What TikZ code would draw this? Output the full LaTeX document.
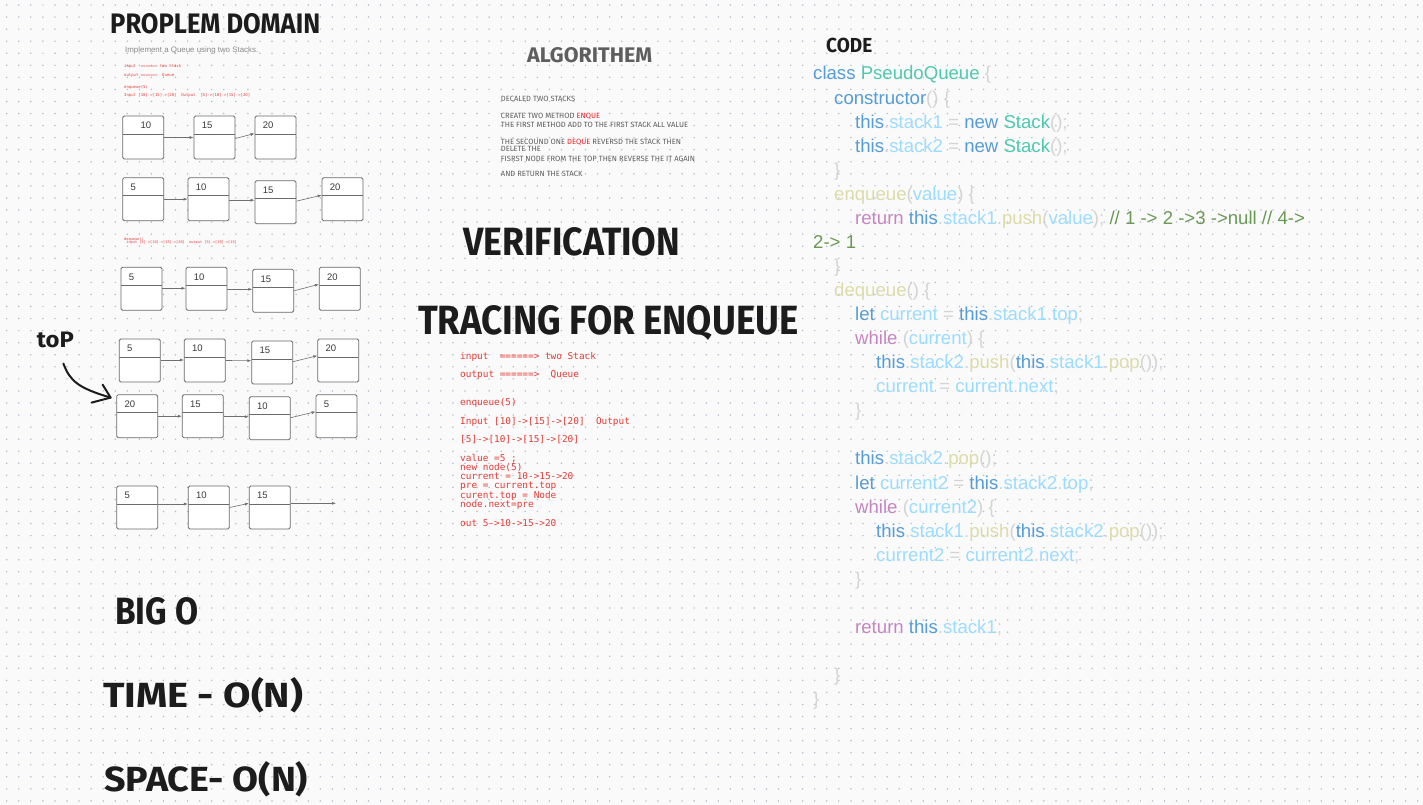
\documentclass[tikz,border=0pt]{standalone}
\usepackage{fontspec}
\usepackage{graphicx}
\usetikzlibrary{arrows.meta}
\setmainfont{Liberation Sans}
\newfontfamily\handfont{Fira Sans}
\newfontfamily\algfont{Fira Sans}
\newfontfamily\tracefont{DejaVu Sans Mono}
\newfontfamily\codefont{Liberation Sans}

\definecolor{paper}{HTML}{FAFAFA}
\definecolor{dotgray}{HTML}{B4BCCB}
\definecolor{boxline}{HTML}{6A6A6A}
\definecolor{numgray}{HTML}{3A3A3A}
\definecolor{linegray}{HTML}{707070}
\definecolor{implgray}{HTML}{8A8A8A}
\definecolor{tracered}{HTML}{E33B36}
\definecolor{alggray}{HTML}{5E5E5E}
\definecolor{algred}{HTML}{EA2228}
\definecolor{inkblack}{HTML}{1C1C1C}
\definecolor{vsKw}{HTML}{569CD6}
\definecolor{vsCls}{HTML}{4EC9B0}
\definecolor{vsPun}{HTML}{D4D4D4}
\definecolor{vsVar}{HTML}{9CDCFE}
\definecolor{vsFun}{HTML}{DCDCAA}
\definecolor{vsCtl}{HTML}{C586C0}
\definecolor{vsCom}{HTML}{6A9955}

\newcommand\handw[3]{\resizebox{#1}{#2}{\handfont\bfseries #3}}
\newcommand\cKw[1]{\textcolor{vsKw}{#1}}
\newcommand\cCls[1]{\textcolor{vsCls}{#1}}
\newcommand\cVar[1]{\textcolor{vsVar}{#1}}
\newcommand\cFun[1]{\textcolor{vsFun}{#1}}
\newcommand\cCtl[1]{\textcolor{vsCtl}{#1}}
\newcommand\cCom[1]{\textcolor{vsCom}{#1}}

\begin{document}
\begin{tikzpicture}[x=1pt, y=-1pt,
  qbox/.style={draw=boxline, fill=white, line width=0.8pt, rounded corners=1.5pt,
    minimum width=41pt, minimum height=43pt, inner sep=0pt,
    path picture={\draw[boxline, line width=0.8pt]
      ([yshift=-18pt]path picture bounding box.north west) --
      ([yshift=-18pt]path picture bounding box.north east);}},
  boxnum/.style={anchor=north west, inner sep=0pt, xshift=8pt, yshift=-6.5pt,
    text=numgray, font=\fontsize{9.5}{10}\selectfont},
  link/.style={draw=linegray, line width=0.6pt, -{Latex[length=4pt,width=3pt]}},
  handhead/.style={anchor=base west, inner sep=0pt, text=inkblack},
  inkline/.style={draw=inkblack, line width=2pt, line cap=round, line join=round},
  mini/.style={anchor=base west, inner sep=0pt, text=tracered, font=\tracefont\fontsize{3.95}{4}\selectfont},
  algline/.style={anchor=base west, inner sep=0pt, text=alggray, font=\algfont\fontsize{7.6}{8}\selectfont},
  traceline/.style={anchor=base west, inner sep=0pt, text=tracered, font=\tracefont\fontsize{9.4}{9.4}\selectfont},
  codeline/.style={anchor=base west, inner sep=0pt, text=vsPun, font=\codefont\fontsize{18.6}{18.6}\selectfont}]

  \useasboundingbox (0,0) rectangle (1423,805);
  \fill[paper] (0,0) rectangle (1423,805);
  % dotted paper
  \foreach \j in {0,...,66}
    \draw[dotgray, line width=1.7pt, line cap=round, dash pattern=on 0pt off 12.06pt]
      (6.7,5+12.06*\j) -- (1423,5+12.06*\j);

  % problem domain
  \node[handhead] (probdom) at (110,33.3) {\handw{210pt}{20pt}{PROPLEM DOMAIN}};
  \node[anchor=base west, inner sep=0pt, text=implgray, font=\fontsize{7.9}{8}\selectfont]
    (implq) at (125,52.5) {Implement a Queue using two Stacks.};
  \node[mini] (pin) at (124,68) {input~~======>~two Stack};
  \node[mini] (pout) at (124,76.7) {output~======>~~Queue};
  \node[mini] (penq) at (124,88.3) {enqueue(5)};
  \node[mini] (pio) at (124,96.7) {Input~[10]->[15]->[20]~~Output~~[5]->[10]->[15]->[20]};

  % stacks
  \node[qbox, label={[boxnum,xshift=10pt]north west:10}] (r1a) at (143.2,137.5) {};
  \node[qbox, label={[boxnum]north west:15}] (r1b) at (214.5,137.5) {};
  \node[qbox, label={[boxnum]north west:20}] (r1c) at (275.5,137.5) {};
  \draw[link] (r1a.east) -- (r1b.west);
  \draw[link] ([yshift=-1pt]r1b.east) -- ([yshift=4pt]r1c.west);

  \node[qbox, label={[boxnum]north west:5}] (r2a) at (143.2,199.2) {};
  \node[qbox, label={[boxnum]north west:10}] (r2b) at (208.5,199.2) {};
  \node[qbox, label={[boxnum]north west:15}] (r2c) at (275.5,202.2) {};
  \node[qbox, label={[boxnum]north west:20}] (r2d) at (342.5,199.2) {};
  \draw[link] (r2a.east) -- (r2b.west);
  \draw[link] ([yshift=-1pt]r2b.east) -- ([yshift=2pt]r2c.west);
  \draw[link] ([yshift=1pt]r2c.east) -- ([yshift=4pt]r2d.west);

  \node[mini, font=\tracefont\fontsize{3.6}{4}\selectfont] (dqn) at (124,240) {dequeue()};
  \node[mini, font=\tracefont\fontsize{3.6}{4}\selectfont] (dqio) at (124,243.6)
    {~input [5]->[10]->[15]->[20]~~output [5]->[10]->[15]};

  \node[qbox, label={[boxnum]north west:5}] (r3a) at (141.5,288.8) {};
  \node[qbox, label={[boxnum]north west:10}] (r3b) at (206.5,288.8) {};
  \node[qbox, label={[boxnum]north west:15}] (r3c) at (273.2,290.8) {};
  \node[qbox, label={[boxnum]north west:20}] (r3d) at (339.8,288.8) {};
  \draw[link] ([yshift=0.5pt]r3a.east) -- ([yshift=0.5pt]r3b.west);
  \draw[link] ([yshift=-0.5pt]r3b.east) -- ([yshift=1.5pt]r3c.west);
  \draw[link] (r3c.east) -- ([yshift=4.5pt]r3d.west);

  \node[qbox, label={[boxnum]north west:5}] (r4a) at (139.8,360.5) {};
  \node[qbox, label={[boxnum]north west:10}] (r4b) at (204.8,360.5) {};
  \node[qbox, label={[boxnum]north west:15}] (r4c) at (272.2,362.5) {};
  \node[qbox, label={[boxnum]north west:20}] (r4d) at (338.2,360.5) {};
  \draw[link] ([yshift=0.5pt]r4a.east) -- ([yshift=0.5pt]r4b.west);
  \draw[link] (r4b.east) -- ([yshift=1.8pt]r4c.west);
  \draw[link] ([yshift=0.8pt]r4c.east) -- ([yshift=4.8pt]r4d.west);

  \node[qbox, label={[boxnum]north west:20}] (r5a) at (137.2,416.2) {};
  \node[qbox, label={[boxnum]north west:15}] (r5b) at (202.8,416.2) {};
  \node[qbox, label={[boxnum]north west:10}] (r5c) at (269.8,418.2) {};
  \node[qbox, label={[boxnum]north west:5}] (r5d) at (336.5,416.2) {};
  \draw[link] (r5a.east) -- (r5b.west);
  \draw[link] ([yshift=-0.5pt]r5b.east) -- ([yshift=1.5pt]r5c.west);
  \draw[link] ([yshift=0.5pt]r5c.east) -- ([yshift=4.5pt]r5d.west);

  % top pointer
  \node[handhead] (toplbl) at (36.7,347) {\handw{37pt}{15.5pt}{toP}};
  \draw[inkline] ([shift={(8,16)}]toplbl.south) .. controls (70,381) and (78,388) .. ([shift={(-5.7,3.3)}]r5a.north west);
  \draw[inkline] ([shift={(-13.7,-9.7)}]r5a.north west) -- ([shift={(-5.7,3.3)}]r5a.north west) -- ([shift={(-24.7,8.3)}]r5a.north west);

  \node[qbox, label={[boxnum]north west:5}] (r6a) at (137.2,507.5) {};
  \node[qbox, label={[boxnum]north west:10}] (r6b) at (208.8,507.5) {};
  \node[qbox, label={[boxnum]north west:15}] (r6c) at (269.8,507.5) {};
  \coordinate (r6end) at (336,503.3);
  \draw[link] ([yshift=3.5pt]r6a.east) -- ([yshift=3.5pt]r6b.west);
  \draw[link] (r6b.east) -- ([yshift=4.2pt]r6c.west);
  \draw[link] ([yshift=4.2pt]r6c.east) -- (r6end);

  % algorithm
  \node[handhead, text=alggray] (algo) at (527,63) {\handw{125pt}{15pt}{ALGORITHEM}};
  \node[algline] (al1) at (500.7,102) {DECALED TWO STACKS};
  \node[algline] (al2) at (500.7,119) {CREATE TWO METHOD \textcolor{algred}{ENQUE}};
  \node[algline] (al3) at (500.7,127.3) {THE FIRST METHOD ADD TO THE FIRST STACK ALL VALUE};
  \node[algline] (al4) at (500.7,144.3) {THE SECOUND ONE \textcolor{algred}{DEQUE} REVERSD THE STACK THEN};
  \node[algline] (al5) at (500.7,151.3) {DELETE THE};
  \node[algline] (al6) at (500.7,161.7) {FISRST NODE FROM THE TOP THEN REVERSE THE IT AGAIN};
  \node[algline] (al7) at (500.7,176.7) {AND RETURN THE STACK};

  % verification and tracing
  \node[handhead] (verif) at (463,255) {\handw{217pt}{28pt}{VERIFICATION}};
  \node[handhead] (tracing) at (418,334) {\handw{380pt}{29pt}{TRACING FOR ENQUEUE}};
  \node[traceline] (t1) at (460,359) {input~~======>~two Stack};
  \node[traceline] (t2) at (460,377.6) {output~======>~~Queue};
  \node[traceline] (t3) at (460,405.4) {enqueue(5)};
  \node[traceline] (t4) at (460,424) {Input~[10]->[15]->[20]~~Output};
  \node[traceline] (t5) at (460,442.5) {[5]->[10]->[15]->[20]};
  \node[traceline] (t6) at (460,461.1) {value~=5~;};
  \node[traceline] (t7) at (460,470.4) {new node(5)};
  \node[traceline] (t8) at (460,479.6) {current~=~10->15->20};
  \node[traceline] (t9) at (460,488.9) {pre~=~current.top};
  \node[traceline] (t10) at (460,498.2) {curent.top~=~Node};
  \node[traceline] (t11) at (460,507.5) {node.next=pre};
  \node[traceline] (t12) at (460,526) {out~5->10->15->20};

  % big o
  \node[handhead] (bigo) at (115,624) {\handw{83pt}{27pt}{BIG O}};
  \node[handhead] (timeo) at (103,707) {\handw{200pt}{30pt}{TIME - O(N)}};
  \node[handhead] (spaceo) at (104,791) {\handw{204pt}{30pt}{SPACE- O(N)}};

  % code
  \node[handhead] (codehd) at (826,52.7) {\handw{46pt}{14.4pt}{CODE}};
  \node[codeline] (c0) at (813,80) {\cKw{class} \cCls{PseudoQueue} \{};
  \node[codeline] (c1) at (834,104.06) {\cKw{constructor}() \{};
  \node[codeline] (c2) at (855,128.12) {\cKw{this}.\cVar{stack1} = \cKw{new} \cCls{Stack}();};
  \node[codeline] (c3) at (855,152.18) {\cKw{this}.\cVar{stack2} = \cKw{new} \cCls{Stack}();};
  \node[codeline] (c4) at (834,176.24) {\}};
  \node[codeline] (c5) at (834,200.3) {\cFun{enqueue}(\cVar{value}) \{};
  \node[codeline] (c6) at (855,224.36) {\cCtl{return} \cKw{this}.\cVar{stack1}.\cFun{push}(\cVar{value}); \cCom{// 1 -> 2 ->3 ->null // 4->}};
  \node[codeline] (c7) at (813,248.42) {\cCom{2-> 1}};
  \node[codeline] (c8) at (834,272.48) {\}};
  \node[codeline] (c9) at (834,296.54) {\cFun{dequeue}() \{};
  \node[codeline] (c10) at (855,320.6) {\cKw{let} \cVar{current} = \cKw{this}.\cVar{stack1}.\cVar{top};};
  \node[codeline] (c11) at (855,344.66) {\cCtl{while} (\cVar{current}) \{};
  \node[codeline] (c12) at (876,368.72) {\cKw{this}.\cVar{stack2}.\cFun{push}(\cKw{this}.\cVar{stack1}.\cFun{pop}());};
  \node[codeline] (c13) at (876,392.78) {\cVar{current} = \cVar{current}.\cVar{next};};
  \node[codeline] (c14) at (855,416.84) {\}};
  \node[codeline] (c16) at (855,464.96) {\cKw{this}.\cVar{stack2}.\cFun{pop}();};
  \node[codeline] (c17) at (855,489.02) {\cKw{let} \cVar{current2} = \cKw{this}.\cVar{stack2}.\cVar{top};};
  \node[codeline] (c18) at (855,513.08) {\cCtl{while} (\cVar{current2}) \{};
  \node[codeline] (c19) at (876,537.14) {\cKw{this}.\cVar{stack1}.\cFun{push}(\cKw{this}.\cVar{stack2}.\cFun{pop}());};
  \node[codeline] (c20) at (876,561.2) {\cVar{current2} = \cVar{current2}.\cVar{next};};
  \node[codeline] (c21) at (855,585.26) {\}};
  \node[codeline] (c23) at (855,633.38) {\cCtl{return} \cKw{this}.\cVar{stack1};};
  \node[codeline] (c25) at (834,681.5) {\}};
  \node[codeline] (c26) at (813,705.56) {\}};
\end{tikzpicture}
\end{document}
